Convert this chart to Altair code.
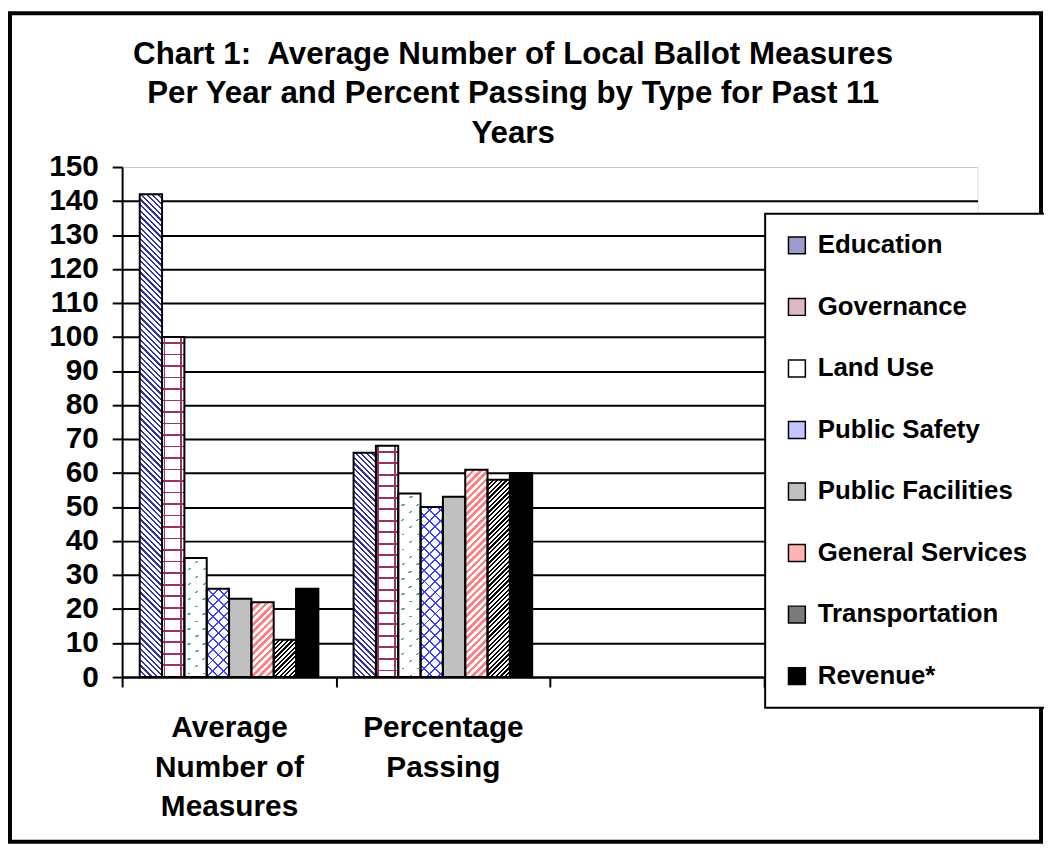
import json
import math
import altair as alt
import pandas as pd

# ---------------- data ----------------
SERIES = ["Education", "Governance", "Land Use", "Public Safety",
          "Public Facilities", "General Services", "Transportation", "Revenue*"]
CATEGORIES = ["Average Number of Measures", "Percentage Passing"]
EMPTY_SLOTS = ["(empty slot 3)", "(empty slot 4)"]
AVERAGE_NUMBER = [142, 100, 35, 26, 23, 22, 11, 26]
PERCENT_PASSING = [66, 68, 54, 50, 53, 61, 58, 60]
Y_TICKS = [0, 10, 20, 30, 40, 50, 60, 70, 80, 90, 100, 110, 120, 130, 140, 150]
X_LABEL_LINES = [["Average", "Number of", "Measures"], ["Percentage", "Passing"]]
TITLE_LINES = ["Chart 1:\u00a0 Average Number of Local Ballot Measures",
               "Per Year and Percent Passing by Type for Past 11",
               "Years"]
# solid colours used for legend swatches (approximate look of the patterns)
LEGEND_COLORS = ["#9c9ccc", "#dcb8c8", "#ffffff", "#c4c4ff",
                 "#c0c0c0", "#ffb3b3", "#7a7a7a", "#000000"]

rows = []
for cat, vals in zip(CATEGORIES, [AVERAGE_NUMBER, PERCENT_PASSING]):
    for s, v in zip(SERIES, vals):
        rows.append({"category": cat, "type": s, "value": v})
df = pd.DataFrame(rows)

# ---------------- layout ----------------
FONT = "Liberation Sans"
PLOT_W, PLOT_H = 862, 514
Y_MAX = 150
N_SLOTS = 4
STEP = PLOT_W / N_SLOTS
BAR_TARGET = 22.5
OFF_PAD_OUTER = (STEP / BAR_TARGET - len(SERIES)) / 2
BAR_W = STEP / (len(SERIES) + 2 * OFF_PAD_OUTER)
TRANSP = "rgba(255,255,255,0)"

# hatch patterns approximated with hard-stop linear gradients
PATTERNS = {
    "Education": [("down", 4.0, 1.6, "#333399", "white", 0.0)],
    "Governance": [("h", 11.6, 1.8, "#993366", "white", 5.0),
                   ("v", 16.7, 1.8, "#993366", TRANSP, 1.5)],
    "Land Use": [("up", 10.6, 1.8, "#55aa80", "white", 0.0),
                 ("h", 7.5, 1.8, TRANSP, "white", 3.0)],
    "Public Safety": [("up", 7.8, 1.4, "#3f3fff", "white", 0.0),
                      ("down", 7.8, 1.4, "#3f3fff", TRANSP, 0.0)],
    "General Services": [("up", 5.2, 2.6, "#ff8080", "white", 0.0)],
    "Transportation": [("up", 3.3, 1.6, "#000000", "white", 0.0)],
}


def stripe_gradient(kind, w, h, period, thick, color, bg, phase):
    r2 = math.sqrt(2)
    if kind == "h":
        x1, y1, x2, y2, L = 0, 0, 0, 1, h
    elif kind == "v":
        x1, y1, x2, y2, L = 0, 0, 1, 0, w
    elif kind == "up":  # "/" lines
        L = (w + h) / r2
        c = L / ((w * w + h * h) / 2)
        x1, y1 = 0, 0
        x2, y2 = c * w / r2, c * h / r2
    else:  # "\" lines
        L = (w + h) / r2
        c = L / ((w * w + h * h) / 2)
        x1, y1 = 0, 1
        x2, y2 = c * w / r2, 1 - c * h / r2
    stops = [{"offset": 0, "color": bg}]
    s = phase
    while s < L:
        a = round(max(s, 0) / L, 6)
        b = round(min(s + thick, L) / L, 6)
        stops += [{"offset": a, "color": bg}, {"offset": a, "color": color},
                  {"offset": b, "color": color}, {"offset": b, "color": bg}]
        s += period
    stops.append({"offset": 1, "color": bg})
    return {"gradient": "linear", "x1": round(x1, 6), "y1": round(y1, 6),
            "x2": round(x2, 6), "y2": round(y2, 6), "stops": stops}


# ---------------- encodings ----------------
label_expr = ""
for cat, lines in zip(CATEGORIES, X_LABEL_LINES):
    label_expr += f"datum.value == '{cat}' ? {json.dumps(lines)} : "
label_expr += "''"

x_enc = alt.X(
    "category:N",
    scale=alt.Scale(domain=CATEGORIES + EMPTY_SLOTS, paddingInner=0,
                    paddingOuter=0),
    axis=alt.Axis(title=None, labelExpr=label_expr, labelAngle=0,
                  labelFont=FONT, labelFontSize=30, labelFontWeight="bold",
                  labelColor="black", labelLineHeight=40, labelPadding=26,
                  labelLimit=400, labelOverlap=False,
                  tickBand="extent", tickSize=10, tickWidth=2, tickColor="black",
                  domainColor="black", domainWidth=2, grid=False),
)
xoff_enc = alt.XOffset("type:N", scale=alt.Scale(domain=SERIES, paddingInner=0,
                                                  paddingOuter=OFF_PAD_OUTER))
y_enc = alt.Y(
    "value:Q",
    scale=alt.Scale(domain=[0, Y_MAX], nice=False, zero=True),
    axis=alt.Axis(title=None, values=Y_TICKS, labelFont=FONT, labelFontSize=30,
                  labelFontWeight="bold", labelColor="black", labelPadding=14,
                  tickSize=10, tickWidth=2, tickColor="black",
                  domainColor="black", domainWidth=2, grid=True,
                  gridColor={"condition": {"test": "datum.value == 150",
                                           "value": "#c8c8c8"},
                             "value": "black"},
                  gridWidth={"condition": {"test": "datum.value == 150",
                                           "value": 1},
                             "value": 2}),
)

base = alt.Chart(df).mark_bar(strokeWidth=0).encode(
    x=x_enc, xOffset=xoff_enc, y=y_enc,
    fill=alt.Fill("type:N", scale=alt.Scale(domain=SERIES, range=LEGEND_COLORS),
                  legend=alt.Legend(orient="none", legendX=648, legendY=47,
                                    title=None, symbolType="square",
                                    symbolSize=289, symbolStrokeColor="black",
                                    symbolStrokeWidth=1.5, symbolOpacity=1,
                                    labelFont=FONT, labelFontSize=26,
                                    labelFontWeight="bold", labelColor="black",
                                    labelOffset=8, labelLimit=400,
                                    rowPadding=36, padding=19,
                                    strokeColor="black",
                                    fillColor="white")),
)

layers = [base]
for cat, vals in zip(CATEGORIES, [AVERAGE_NUMBER, PERCENT_PASSING]):
    for s, v in zip(SERIES, vals):
        if s not in PATTERNS:
            continue
        h = v * PLOT_H / Y_MAX
        for (kind, period, thick, color, bg, phase) in PATTERNS[s]:
            grad = stripe_gradient(kind, BAR_W, h, period, thick, color, bg, phase)
            layers.append(
                alt.Chart(df)
                .transform_filter(f"datum.category == '{cat}' && datum.type == '{s}'")
                .mark_bar(fill=grad, strokeWidth=0)
                .encode(x=x_enc, xOffset=xoff_enc, y=y_enc)
            )

outline = alt.Chart(df).mark_bar(color="white", fillOpacity=0, stroke="black",
                                 strokeWidth=2).encode(x=x_enc, xOffset=xoff_enc,
                                                       y=y_enc)
layers.append(outline)

frame = alt.Chart(pd.DataFrame({"frame": [0]})).mark_rect(
    filled=False, stroke="black", strokeWidth=4
).encode(x=alt.value(-113), x2=alt.value(926), y=alt.value(-155), y2=alt.value(680))
layers.append(frame)

chart = alt.layer(*layers).properties(
    width=PLOT_W, height=PLOT_H,
    autosize=alt.AutoSizeParams(type="none"),
    padding={"left": 115, "top": 157, "right": 67, "bottom": 169},
    title=alt.TitleParams(text=TITLE_LINES, font=FONT, fontSize=31.5,
                          fontWeight="bold", color="black", anchor="middle",
                          baseline="alphabetic", dx=-37, dy=164, lineHeight=39.5,
                          offset=0),
).configure_view(strokeWidth=0).configure(background="white").configure_legend(
    strokeWidth=2)

chart.save("out.html", embed_options={"renderer": "svg", "actions": False})
